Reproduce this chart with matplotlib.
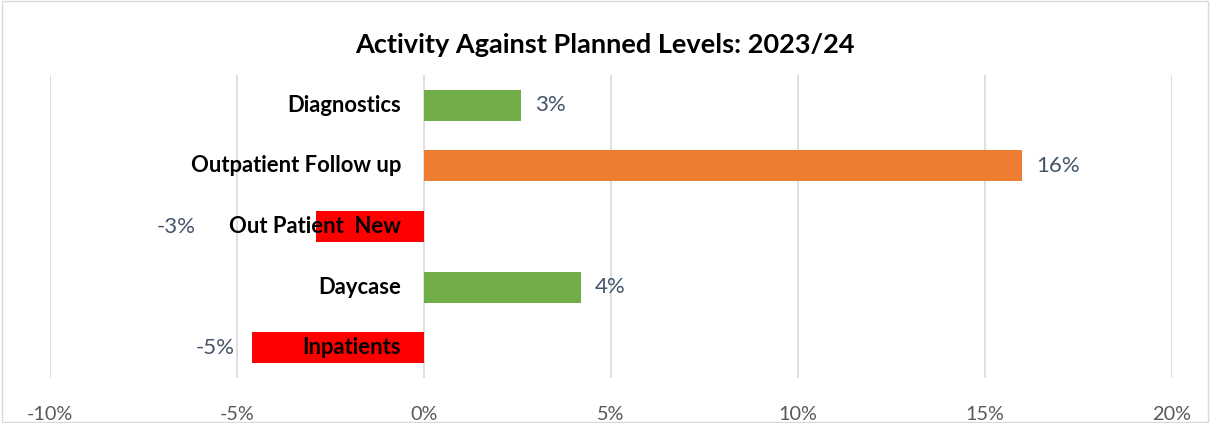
import matplotlib
matplotlib.use('Agg')
import matplotlib.pyplot as plt
from matplotlib.patches import Rectangle
from matplotlib.ticker import FuncFormatter

plt.rcParams['font.family'] = ['Lato', 'DejaVu Sans']

categories = ['Diagnostics', 'Outpatient Follow up', 'Out Patient  New', 'Daycase', 'Inpatients']
variance = [2.6, 16.0, -2.9, 4.2, -4.6]   # % against plan
bar_colors = ['#70AD47', '#ED7D31', '#FF0000', '#70AD47', '#FF0000']
xticks = [-10, -5, 0, 5, 10, 15, 20]

# extra pixel shift for the value labels on negative bars
label_shift = {2: -103}

fig = plt.figure(figsize=(12.1, 4.23), dpi=100)
ax = fig.add_axes([50 / 1210, 1 - 378 / 423, 1122 / 1210, 303 / 423])

ypos = list(range(len(categories)))
ax.barh(ypos, variance, height=0.51, color=bar_colors, zorder=2)
ax.set_ylim(len(categories) - 0.5, -0.5)
ax.set_xlim(-10, 20)
ax.set_xticks(xticks)
ax.xaxis.set_major_formatter(FuncFormatter(lambda v, p: '%d%%' % v))
ax.tick_params(axis='x', length=0, pad=20, labelsize=14.3, labelcolor='#595959')
ax.set_yticks([])
ax.grid(axis='x', color='#D9DDE3', linewidth=1.3, zorder=0)
for s in ax.spines.values():
    s.set_visible(False)

for i, (name, v) in enumerate(zip(categories, variance)):
    # category name sits just left of the zero line
    ax.annotate(name, xy=(0, i), xytext=(-23, 0), textcoords='offset pixels',
                ha='right', va='center', fontsize=15.8, fontweight='bold',
                color='black', zorder=3)
    lab = '%d%%' % round(v)
    if v >= 0:
        ax.annotate(lab, xy=(v, i), xytext=(14, 0), textcoords='offset pixels',
                    ha='left', va='center', fontsize=16, color='#44546A')
    else:
        ax.annotate(lab, xy=(v, i), xytext=(-17 + label_shift.get(i, 0), 0),
                    textcoords='offset pixels', ha='right', va='center',
                    fontsize=16, color='#44546A')

fig.text(0.5, 1 - 45 / 423, 'Activity Against Planned Levels: 2023/24',
         ha='center', va='center', fontsize=19.5, fontweight='bold')

fig.patches.append(Rectangle((0.002, 0.003), 0.996, 0.994, transform=fig.transFigure,
                             fill=False, edgecolor='#D9D9D9', linewidth=1))

fig.savefig('out.png', dpi=100)
